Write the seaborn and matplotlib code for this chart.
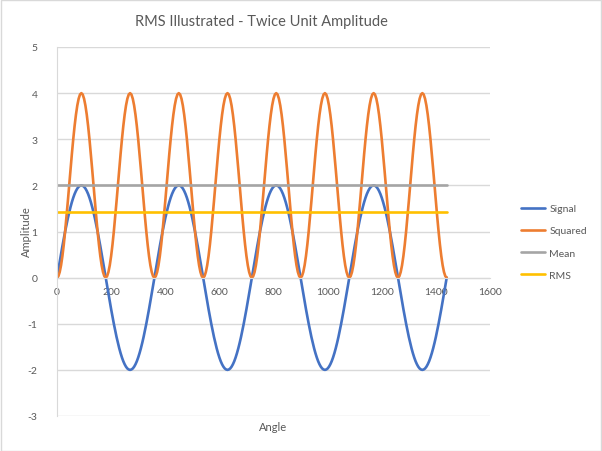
import matplotlib
matplotlib.use("Agg")
import matplotlib.pyplot as plt
import seaborn as sns
import pandas as pd
from matplotlib.patches import Rectangle
from matplotlib.lines import Line2D

angles = [
    0, 5, 10, 15, 20, 25, 30, 35, 40, 45, 50, 55, 60, 65, 70, 75, 80, 85,
    90, 95, 100, 105, 110, 115, 120, 125, 130, 135, 140, 145, 150, 155, 160, 165, 170, 175,
    180, 185, 190, 195, 200, 205, 210, 215, 220, 225, 230, 235, 240, 245, 250, 255, 260, 265,
    270, 275, 280, 285, 290, 295, 300, 305, 310, 315, 320, 325, 330, 335, 340, 345, 350, 355,
    360, 365, 370, 375, 380, 385, 390, 395, 400, 405, 410, 415, 420, 425, 430, 435, 440, 445,
    450, 455, 460, 465, 470, 475, 480, 485, 490, 495, 500, 505, 510, 515, 520, 525, 530, 535,
    540, 545, 550, 555, 560, 565, 570, 575, 580, 585, 590, 595, 600, 605, 610, 615, 620, 625,
    630, 635, 640, 645, 650, 655, 660, 665, 670, 675, 680, 685, 690, 695, 700, 705, 710, 715,
    720, 725, 730, 735, 740, 745, 750, 755, 760, 765, 770, 775, 780, 785, 790, 795, 800, 805,
    810, 815, 820, 825, 830, 835, 840, 845, 850, 855, 860, 865, 870, 875, 880, 885, 890, 895,
    900, 905, 910, 915, 920, 925, 930, 935, 940, 945, 950, 955, 960, 965, 970, 975, 980, 985,
    990, 995, 1000, 1005, 1010, 1015, 1020, 1025, 1030, 1035, 1040, 1045, 1050, 1055, 1060, 1065, 1070, 1075,
    1080, 1085, 1090, 1095, 1100, 1105, 1110, 1115, 1120, 1125, 1130, 1135, 1140, 1145, 1150, 1155, 1160, 1165,
    1170, 1175, 1180, 1185, 1190, 1195, 1200, 1205, 1210, 1215, 1220, 1225, 1230, 1235, 1240, 1245, 1250, 1255,
    1260, 1265, 1270, 1275, 1280, 1285, 1290, 1295, 1300, 1305, 1310, 1315, 1320, 1325, 1330, 1335, 1340, 1345,
    1350, 1355, 1360, 1365, 1370, 1375, 1380, 1385, 1390, 1395, 1400, 1405, 1410, 1415, 1420, 1425, 1430, 1435,
    1440,
]

signal = [
    0, 0.174, 0.347, 0.518, 0.684, 0.845, 1, 1.147, 1.286, 1.414, 1.532, 1.638, 1.732, 1.813, 1.879, 1.932, 1.970, 1.992,
    2, 1.992, 1.970, 1.932, 1.879, 1.813, 1.732, 1.638, 1.532, 1.414, 1.286, 1.147, 1, 0.845, 0.684, 0.518, 0.347, 0.174,
    0, -0.174, -0.347, -0.518, -0.684, -0.845, -1, -1.147, -1.286, -1.414, -1.532, -1.638, -1.732, -1.813, -1.879, -1.932, -1.970, -1.992,
    -2, -1.992, -1.970, -1.932, -1.879, -1.813, -1.732, -1.638, -1.532, -1.414, -1.286, -1.147, -1, -0.845, -0.684, -0.518, -0.347, -0.174,
    0, 0.174, 0.347, 0.518, 0.684, 0.845, 1, 1.147, 1.286, 1.414, 1.532, 1.638, 1.732, 1.813, 1.879, 1.932, 1.970, 1.992,
    2, 1.992, 1.970, 1.932, 1.879, 1.813, 1.732, 1.638, 1.532, 1.414, 1.286, 1.147, 1, 0.845, 0.684, 0.518, 0.347, 0.174,
    0, -0.174, -0.347, -0.518, -0.684, -0.845, -1, -1.147, -1.286, -1.414, -1.532, -1.638, -1.732, -1.813, -1.879, -1.932, -1.970, -1.992,
    -2, -1.992, -1.970, -1.932, -1.879, -1.813, -1.732, -1.638, -1.532, -1.414, -1.286, -1.147, -1, -0.845, -0.684, -0.518, -0.347, -0.174,
    0, 0.174, 0.347, 0.518, 0.684, 0.845, 1, 1.147, 1.286, 1.414, 1.532, 1.638, 1.732, 1.813, 1.879, 1.932, 1.970, 1.992,
    2, 1.992, 1.970, 1.932, 1.879, 1.813, 1.732, 1.638, 1.532, 1.414, 1.286, 1.147, 1, 0.845, 0.684, 0.518, 0.347, 0.174,
    0, -0.174, -0.347, -0.518, -0.684, -0.845, -1, -1.147, -1.286, -1.414, -1.532, -1.638, -1.732, -1.813, -1.879, -1.932, -1.970, -1.992,
    -2, -1.992, -1.970, -1.932, -1.879, -1.813, -1.732, -1.638, -1.532, -1.414, -1.286, -1.147, -1, -0.845, -0.684, -0.518, -0.347, -0.174,
    0, 0.174, 0.347, 0.518, 0.684, 0.845, 1, 1.147, 1.286, 1.414, 1.532, 1.638, 1.732, 1.813, 1.879, 1.932, 1.970, 1.992,
    2, 1.992, 1.970, 1.932, 1.879, 1.813, 1.732, 1.638, 1.532, 1.414, 1.286, 1.147, 1, 0.845, 0.684, 0.518, 0.347, 0.174,
    0, -0.174, -0.347, -0.518, -0.684, -0.845, -1, -1.147, -1.286, -1.414, -1.532, -1.638, -1.732, -1.813, -1.879, -1.932, -1.970, -1.992,
    -2, -1.992, -1.970, -1.932, -1.879, -1.813, -1.732, -1.638, -1.532, -1.414, -1.286, -1.147, -1, -0.845, -0.684, -0.518, -0.347, -0.174,
    0,
]

squared = [
    0, 0.030, 0.121, 0.268, 0.468, 0.714, 1, 1.316, 1.653, 2, 2.347, 2.684, 3, 3.286, 3.532, 3.732, 3.879, 3.970,
    4, 3.970, 3.879, 3.732, 3.532, 3.286, 3, 2.684, 2.347, 2, 1.653, 1.316, 1, 0.714, 0.468, 0.268, 0.121, 0.030,
    0, 0.030, 0.121, 0.268, 0.468, 0.714, 1, 1.316, 1.653, 2, 2.347, 2.684, 3, 3.286, 3.532, 3.732, 3.879, 3.970,
    4, 3.970, 3.879, 3.732, 3.532, 3.286, 3, 2.684, 2.347, 2, 1.653, 1.316, 1, 0.714, 0.468, 0.268, 0.121, 0.030,
    0, 0.030, 0.121, 0.268, 0.468, 0.714, 1, 1.316, 1.653, 2, 2.347, 2.684, 3, 3.286, 3.532, 3.732, 3.879, 3.970,
    4, 3.970, 3.879, 3.732, 3.532, 3.286, 3, 2.684, 2.347, 2, 1.653, 1.316, 1, 0.714, 0.468, 0.268, 0.121, 0.030,
    0, 0.030, 0.121, 0.268, 0.468, 0.714, 1, 1.316, 1.653, 2, 2.347, 2.684, 3, 3.286, 3.532, 3.732, 3.879, 3.970,
    4, 3.970, 3.879, 3.732, 3.532, 3.286, 3, 2.684, 2.347, 2, 1.653, 1.316, 1, 0.714, 0.468, 0.268, 0.121, 0.030,
    0, 0.030, 0.121, 0.268, 0.468, 0.714, 1, 1.316, 1.653, 2, 2.347, 2.684, 3, 3.286, 3.532, 3.732, 3.879, 3.970,
    4, 3.970, 3.879, 3.732, 3.532, 3.286, 3, 2.684, 2.347, 2, 1.653, 1.316, 1, 0.714, 0.468, 0.268, 0.121, 0.030,
    0, 0.030, 0.121, 0.268, 0.468, 0.714, 1, 1.316, 1.653, 2, 2.347, 2.684, 3, 3.286, 3.532, 3.732, 3.879, 3.970,
    4, 3.970, 3.879, 3.732, 3.532, 3.286, 3, 2.684, 2.347, 2, 1.653, 1.316, 1, 0.714, 0.468, 0.268, 0.121, 0.030,
    0, 0.030, 0.121, 0.268, 0.468, 0.714, 1, 1.316, 1.653, 2, 2.347, 2.684, 3, 3.286, 3.532, 3.732, 3.879, 3.970,
    4, 3.970, 3.879, 3.732, 3.532, 3.286, 3, 2.684, 2.347, 2, 1.653, 1.316, 1, 0.714, 0.468, 0.268, 0.121, 0.030,
    0, 0.030, 0.121, 0.268, 0.468, 0.714, 1, 1.316, 1.653, 2, 2.347, 2.684, 3, 3.286, 3.532, 3.732, 3.879, 3.970,
    4, 3.970, 3.879, 3.732, 3.532, 3.286, 3, 2.684, 2.347, 2, 1.653, 1.316, 1, 0.714, 0.468, 0.268, 0.121, 0.030,
    0,
]

const_angles = [0, 1440]
mean_values = [2, 2]
rms_values = [1.414, 1.414]

series_names = ["Signal", "Squared", "Mean", "RMS"]
colors = ["#4472C4", "#ED7D31", "#A5A5A5", "#FFC000"]

x_ticks = [0, 200, 400, 600, 800, 1000, 1200, 1400, 1600]
y_ticks = [-3, -2, -1, 0, 1, 2, 3, 4, 5]

df = pd.concat([
    pd.DataFrame({"Angle": angles, "Amplitude": signal, "Series": "Signal"}),
    pd.DataFrame({"Angle": angles, "Amplitude": squared, "Series": "Squared"}),
    pd.DataFrame({"Angle": const_angles, "Amplitude": mean_values, "Series": "Mean"}),
    pd.DataFrame({"Angle": const_angles, "Amplitude": rms_values, "Series": "RMS"}),
], ignore_index=True)

sns.set_style("white")
plt.rcParams["font.family"] = ["Lato", "DejaVu Sans"]
text_color = "#595959"
grid_color = "#D9D9D9"
lw = 1.9

fig = plt.figure(figsize=(6.02, 4.52), dpi=100)
ax = fig.add_axes([57 / 602, 1 - 417 / 452, (490 - 57) / 602, (417 - 48) / 452])

sns.lineplot(data=df, x="Angle", y="Amplitude", hue="Series", hue_order=series_names,
             palette=colors, sort=False, linewidth=lw, ax=ax, legend=False)

ax.set_xlim(0, 1600)
ax.set_ylim(-3, 5)
ax.set_xticks(x_ticks)
ax.set_yticks(y_ticks)
ax.set_xticklabels([str(v) for v in x_ticks])
ax.set_yticklabels([str(v) for v in y_ticks])
ax.yaxis.grid(True, color=grid_color, linewidth=1)
ax.xaxis.grid(False)
ax.set_axisbelow(True)
for s in ["top", "right"]:
    ax.spines[s].set_visible(False)
ax.spines["bottom"].set_position(("data", 0))
ax.spines["bottom"].set_color(grid_color)
ax.spines["left"].set_color(grid_color)
ax.tick_params(axis="both", length=0, labelsize=7.5, colors=text_color)
ax.tick_params(axis="x", pad=7)
ax.tick_params(axis="y", pad=14)
ax.set_xlabel("")
ax.set_ylabel("")
fig.text(273 / 602, 1 - 428 / 452, "Angle", ha="center", va="center",
         fontsize=8, color=text_color)
fig.text(26 / 602, 1 - 232 / 452, "Amplitude", ha="center", va="center",
         rotation=90, fontsize=8, color=text_color)
fig.text(261 / 602, 1 - 22 / 452, "RMS Illustrated - Twice Unit Amplitude",
         ha="center", va="center", fontsize=10.5, color=text_color)

handles = [Line2D([0], [0], color=c, linewidth=lw) for c in colors]
fig.legend(handles, series_names, loc="center left", bbox_to_anchor=(521 / 602, 1 - 243 / 452),
           frameon=False, fontsize=7.5, labelcolor=text_color, handlelength=2.3,
           handletextpad=0.4, labelspacing=1.25, borderpad=0, borderaxespad=0)

fig.patches.append(Rectangle((0.5 / 602, 0.5 / 452), 1 - 1.5 / 602, 1 - 1.5 / 452,
                             transform=fig.transFigure, fill=False,
                             edgecolor="#D9D9D9", linewidth=1))

fig.savefig("out.png", dpi=100)
